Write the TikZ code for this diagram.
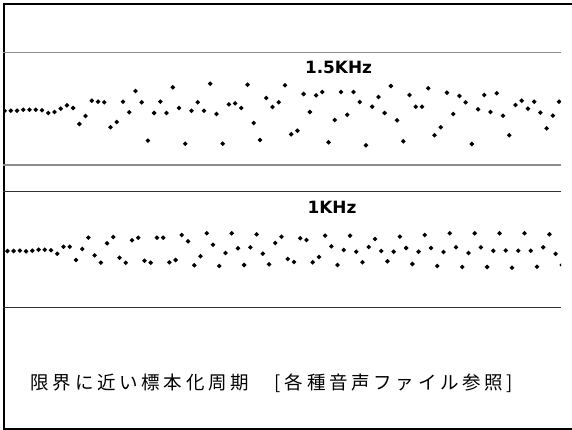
\documentclass[tikz,border=0pt]{standalone}
\usepackage{fontspec}
\newfontfamily\labelfont{DejaVu Sans}
\newfontfamily\jafont{Noto Sans CJK JP}[LetterSpace=20]

\newcommand{\sdot}[2]{\fill (#1,#2) +(-2.4,0) -- +(0,-2.4) -- +(2.4,0) -- +(0,2.4) -- cycle;}

\tikzset{
  frameline/.style={line width=2pt,black},
  gridgray/.style={line width=1.3pt,black!45},
  griddark/.style={line width=1pt,black!80},
  freqlabel/.style={anchor=base west,inner sep=0pt,font=\labelfont\bfseries\fontsize{16.9}{18}\selectfont}
}

\begin{document}
\begin{tikzpicture}[x=1pt,y=-1pt]
\useasboundingbox (0,0) rectangle (572,430);
\draw[frameline] (3.7,430) -- (3.7,3.7) -- (572,3.7);
\draw[line width=1.5pt] (3,429.2) -- (572,429.2);
\draw[gridgray] (3,52.7) -- (561,52.7);
\draw[gridgray] (3,165) -- (561,165);
\draw[griddark] (3,192) -- (561,192);
\draw[griddark] (3,307.7) -- (561,307.7);
\node[freqlabel] (fhigh) at (304.8,73.3) {1.5KHz};
\node[freqlabel] (flow) at (307.4,213.3) {1KHz};
\begin{scope}
\clip (4.7,0) rectangle (561,430);
\foreach \y [count=\n from 0] in {111,110.7,110.7,109.7,109.7,109.7,110.3,113,112,108.7,
  105.3,108,124,116,100.7,101.7,102.3,127.3,122,101.7,
  112.3,91,102.3,140.7,113,101.7,113,87.3,108,143.7,
  110.7,102.3,110.7,83.7,114,143.7,104.3,103.3,108,84.7,
  123,140,98,107,102.3,85.3,134.3,130.7,94,112,
  95.3,92,142.3,120,92,114.7,92,102,145.3,106.7,
  97,113,86,120.3,141.3,95,106.7,106.7,88.3,135.3,
  127.3,92.7,114,96,102.3,144,109.3,95,112,93.3,
  115.7,135.3,105,100.7,108.7,101.7,112.7,128.3,115.7,101.7}
  {\sdot{4.6+6.23*\n}{\y}}
\foreach \y [count=\n from 0] in {251,251,250.7,251.3,250.7,249.7,249.7,250.3,253.7,246.7,
  246.7,260,249,237.7,255.3,262.7,243.3,237,257.7,262.7,
  240.3,237.7,260.7,262.7,237.7,237.7,262.3,260,235,241.3,
  265.3,256.3,233.3,244.7,266,253,233.3,248.3,265,247.3,
  234.3,253.7,264.3,243,236.7,259,262,238.3,240,262.3,
  257,235.7,246.3,265,250,235.7,251.7,262.3,247,239,
  251,261.3,251.7,236.7,248,264,251.7,235,248,266,
  252,233.3,247.3,267,253,233.3,247.3,267,250.8,233.3,
  250.5,267.8,250.8,233.3,250.8,266.7,247.3,234.3,253.8,265}
  {\sdot{7.4+6.23*\n}{\y}}
\end{scope}
\node[anchor=west,inner sep=0pt] (caption) at (30.5,383.3) {\jafont\fontsize{18.5}{21}\selectfont 限界に近い標本化周期　[各種音声ファイル参照]};
\end{tikzpicture}
\end{document}
